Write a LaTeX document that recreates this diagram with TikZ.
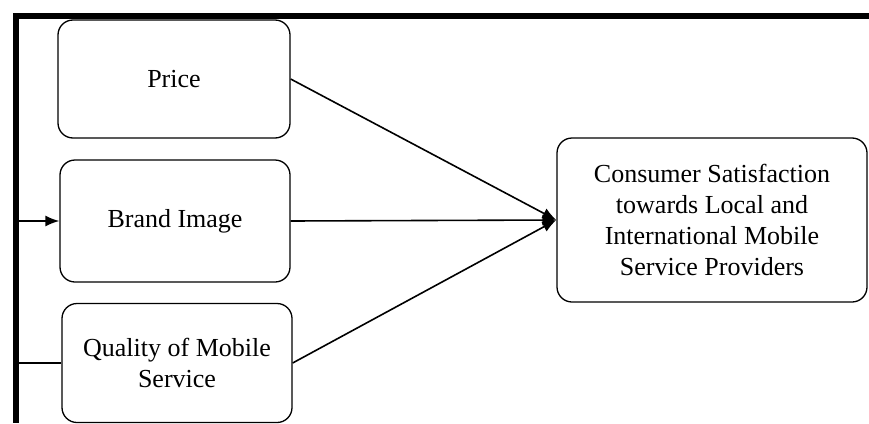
\documentclass[tikz,border=0pt]{standalone}
\usepackage{fontspec}
\setmainfont{Liberation Serif}
\usetikzlibrary{arrows.meta}

\begin{document}
\begin{tikzpicture}[x=1pt,y=-1pt,
        font=\fontsize{26}{31}\selectfont,
        box/.style={draw,rounded corners=15pt,line width=1.3pt,align=center,inner sep=0pt},
        link/.style={line width=1.6pt,-{Latex[length=14pt,width=11pt]}},
        plain/.style={line width=1.6pt}]
    \useasboundingbox (0,0) rectangle (869,423);

    % frame of the figure
    \coordinate (tr) at (869,16);
    \coordinate (tl) at (16,16);
    \coordinate (bl) at (16,423);
    \draw[line width=6pt,line join=miter] (tr) -- (tl) -- (bl);

    \node[box,minimum width=232pt,minimum height=118pt] (price)   at (174,79)  {Price};
    \node[box,minimum width=230pt,minimum height=122pt] (brand)   at (175,221) {Brand Image};
    \node[box,minimum width=230pt,minimum height=119pt] (quality) at (177,363) {Quality of Mobile\\Service};
    \node[box,minimum width=310pt,minimum height=164pt] (cs)      at (712,220)
        {Consumer Satisfaction\\towards Local and\\International Mobile\\Service Providers};

    \coordinate (fb) at (16,221);
    \coordinate (fq) at (16,363);
    \draw[link]  (fb) -- (brand);
    \draw[plain] (fq) -- (quality);

    \draw[link] (price.east)   -- (cs.west);
    \draw[link] (brand.east)   -- (cs.west);
    \draw[link] (quality.east) -- (cs.west);
\end{tikzpicture}
\end{document}
